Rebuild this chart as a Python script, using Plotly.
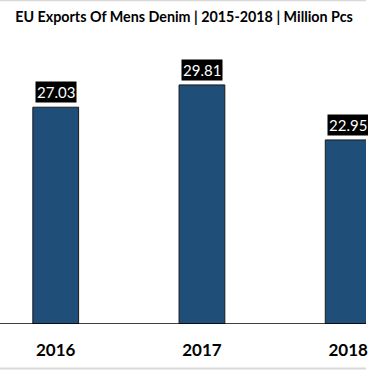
import plotly.graph_objects as go

years = [2016, 2017, 2018]
values = [27.03, 29.81, 22.95]
tick_labels = ["2016", "2017", "2018"]

bar_color = "#1F4E79"
font_family = "Lato, 'Open Sans', sans-serif"

fig = go.Figure()
fig.add_trace(go.Bar(
    x=years, y=values, width=0.313,
    marker=dict(color=bar_color, line=dict(color="#1a1a1a", width=1)),
    hoverinfo="skip",
))

for x, v in zip(years, values):
    fig.add_annotation(
        x=x, y=v, xref="x", yref="y", text=f"{v:.2f}",
        showarrow=False, yanchor="bottom", yshift=4,
        bgcolor="black", font=dict(color="white", size=15, family=font_family),
        borderpad=1,
    )

fig.update_layout(
    width=368, height=370,
    margin=dict(l=0, r=0, t=40, b=46),
    paper_bgcolor="white", plot_bgcolor="white",
    showlegend=False,
    title=dict(text="<b>EU Exports Of Mens Denim | 2015-2018 | Million Pcs</b>",
               x=0.5, xanchor="center", y=0.955, yanchor="middle",
               font=dict(size=14.3, color="black", family=font_family)),
    xaxis=dict(range=[2015.619, 2018.122], tickvals=years, ticktext=[f"<b>{t}</b>" for t in tick_labels],
               showgrid=False, zeroline=False, showline=False, ticks="",
               ticklabeloverflow="allow",
               tickfont=dict(size=17, color="black", family=font_family), ticklabelstandoff=14),
    yaxis=dict(range=[0, 35.41], visible=False, showgrid=False, zeroline=False),
    shapes=[
        dict(type="line", xref="paper", yref="y", x0=0, x1=1, y0=0, y1=0,
             line=dict(color="black", width=1.5)),
        dict(type="line", xref="paper", yref="paper", x0=0, x1=1, y0=1.1391, y1=1.1391,
             line=dict(color="#d9d9d9", width=1.5)),
        dict(type="line", xref="paper", yref="paper", x0=0, x1=1, y0=-0.1567, y1=-0.1567,
             line=dict(color="#d9d9d9", width=2)),
    ],
)

fig.write_html("out.html", config={"displayModeBar": False},
               post_script="document.body.style.margin='0';document.body.style.overflow='hidden';")
